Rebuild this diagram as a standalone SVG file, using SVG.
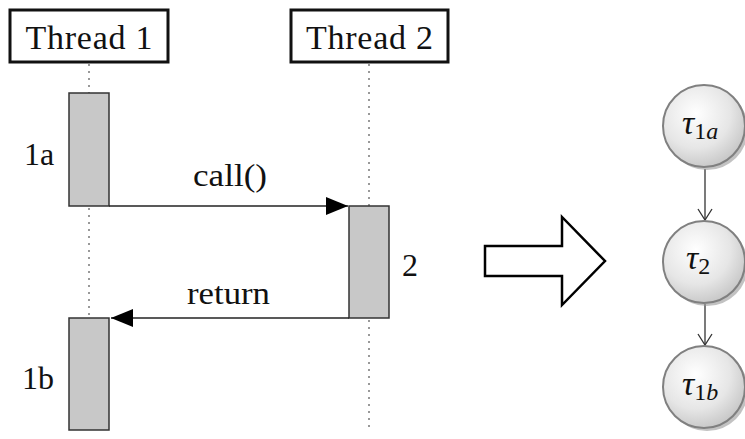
<svg xmlns="http://www.w3.org/2000/svg" width="745" height="439" viewBox="0 0 745 439">
<style>
.lbl{fill:#111;font-family:'Liberation Serif','Times New Roman',Times,'Nimbus Roman','Nimbus Roman No9 L',Tinos,FreeSerif,serif}
.head{fill:#fff;stroke:#111;stroke-width:3}
.act{fill:#c8c8c8;stroke:#333;stroke-width:1.5}
.life{stroke:#999;stroke-width:2;stroke-dasharray:2,5;fill:none}
.msg{stroke:#222;stroke-width:1.5;fill:none}
.node{fill:url(#g);stroke:#808080;stroke-width:2}
.shadow{fill:#999;opacity:0.6}
.edge{stroke:#333;stroke-width:1.3;fill:none}
.tau{font-style:italic;fill:#111;font-family:'Liberation Serif','Times New Roman',Times,'Nimbus Roman',Tinos,FreeSerif,serif}
</style>
<defs>
<radialGradient id="g" cx="0.4" cy="0.35" r="0.7">
<stop offset="0" stop-color="#ffffff"/>
<stop offset="0.6" stop-color="#e6e6e6"/>
<stop offset="1" stop-color="#c4c4c4"/>
</radialGradient>
<marker id="fill" markerWidth="24" markerHeight="20" refX="22" refY="9" orient="auto" markerUnits="userSpaceOnUse">
<path d="M0,0 L22,9 L0,18 Z" fill="#000"/>
</marker>
<marker id="open" markerWidth="14" markerHeight="16" refX="12" refY="7" orient="auto" markerUnits="userSpaceOnUse" viewBox="0 0 14 14">
<path d="M1,0 L12,7 L1,14" fill="none" stroke="#333" stroke-width="1.3"/>
</marker>
</defs>

<g id="thread1">
<rect class="head" x="10" y="10" width="158" height="52"/>
<text class="lbl" x="89" y="49" font-size="34" text-anchor="middle" textLength="127" lengthAdjust="spacing">Thread 1</text>
</g>
<g id="thread2">
<rect class="head" x="291" y="10" width="157" height="52"/>
<text class="lbl" x="369.5" y="49" font-size="34" text-anchor="middle" textLength="127" lengthAdjust="spacing">Thread 2</text>
</g>

<g id="lifelines">
<line class="life" x1="89" y1="64" x2="89" y2="93"/>
<line class="life" x1="89" y1="208" x2="89" y2="318"/>
<line class="life" x1="369" y1="64" x2="369" y2="206"/>
<line class="life" x1="369" y1="320" x2="369" y2="432"/>
</g>

<g id="act1a">
<rect class="act" x="69" y="93" width="40" height="113"/>
<text class="lbl" x="24" y="165" font-size="32">1a</text>
</g>
<g id="act2">
<rect class="act" x="349" y="206" width="40" height="112"/>
<text class="lbl" x="402" y="276" font-size="32">2</text>
</g>
<g id="act1b">
<rect class="act" x="69" y="318" width="40" height="112"/>
<text class="lbl" x="22" y="389" font-size="32">1b</text>
</g>

<g id="connectors">
<line class="msg" x1="109" y1="206" x2="348" y2="206" marker-end="url(#fill)"/>
<text class="lbl" x="193" y="186" font-size="32" textLength="74" lengthAdjust="spacingAndGlyphs">call()</text>
<line class="msg" x1="349" y1="318" x2="111" y2="318" marker-end="url(#fill)"/>
<text class="lbl" x="187" y="304" font-size="32" textLength="83" lengthAdjust="spacingAndGlyphs">return</text>
<line class="edge" x1="705" y1="169" x2="705" y2="220" marker-end="url(#open)"/>
<line class="edge" x1="705" y1="304" x2="705" y2="345" marker-end="url(#open)"/>
</g>

<g id="bigarrow">
<polygon points="485,246 562,246 562,217 605,261 562,305 562,276 485,276" fill="#fff" stroke="#000" stroke-width="2.5" stroke-linejoin="miter"/>
</g>

<g id="tau1a">
<circle class="shadow" cx="707" cy="129" r="41"/>
<circle class="node" cx="704" cy="126" r="41"/>
<text class="tau" x="682" y="134" font-size="34">τ<tspan font-size="24" dy="5" font-style="normal">1</tspan><tspan font-size="24">a</tspan></text>
</g>
<g id="tau2">
<circle class="shadow" cx="707" cy="265" r="41"/>
<circle class="node" cx="704" cy="262" r="41"/>
<text class="tau" x="686" y="269" font-size="34">τ<tspan font-size="24" dy="5" font-style="normal">2</tspan></text>
</g>
<g id="tau1b">
<circle class="shadow" cx="707" cy="390" r="41"/>
<circle class="node" cx="704" cy="387" r="41"/>
<text class="tau" x="682" y="395" font-size="34">τ<tspan font-size="24" dy="5" font-style="normal">1</tspan><tspan font-size="24">b</tspan></text>
</g>
</svg>
